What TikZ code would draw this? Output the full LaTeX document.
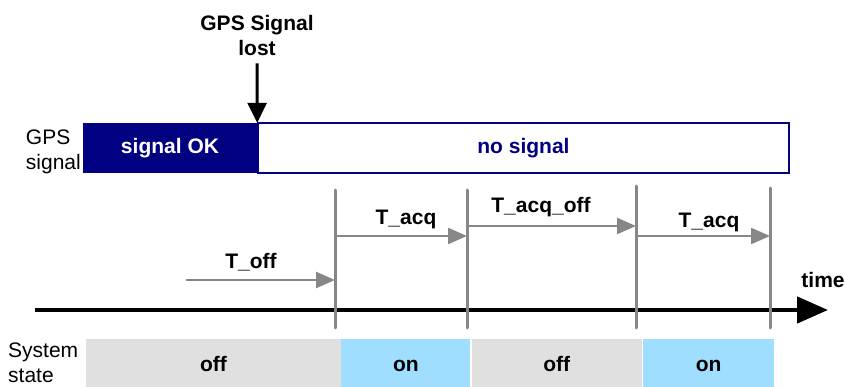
\documentclass[tikz,border=0pt]{standalone}
\usepackage{fontspec}
\setmainfont{Liberation Sans}
\usepackage{tikz}
\usetikzlibrary{arrows.meta,positioning}
\definecolor{gpsnavy}{RGB}{0,0,128}
\definecolor{markgray}{RGB}{135,135,135}
\definecolor{offgray}{RGB}{224,224,224}
\definecolor{onblue}{RGB}{160,222,255}

\begin{document}
\begin{tikzpicture}[x=1pt, y=-1pt, font=\fontsize{21}{25}\selectfont,
  txt/.style={inner sep=0pt, font=\fontsize{21}{25}\selectfont},
  bold/.style={inner sep=0pt, font=\fontsize{21}{25}\selectfont\bfseries},
  okbar/.style={bold, fill=gpsnavy, text=white, minimum height=50pt},
  nobar/.style={bold, draw=gpsnavy, line width=1.5pt, text=gpsnavy, minimum height=50pt},
  statebar/.style={bold, minimum height=48pt, text height=17pt, text depth=0pt},
  marker/.style={draw=markgray, line width=3pt, line cap=round},
  span/.style={draw=markgray, line width=2.5pt, -{Triangle[length=19pt,width=16pt]}},
  ]
  \useasboundingbox (0,0) rectangle (845,387);
  % GPS signal row
  \node[txt, align=left, anchor=east] (gpslbl) at (81,152) {GPS\\signal};
  \node[okbar, minimum width=174pt] (ok) at (170,148) {signal OK};
  \node[nobar, minimum width=531pt, right=0pt of ok] (nosig) {no signal};
  \node[bold, align=center] (lost) at (257,35) {GPS Signal\\lost};
  \draw[line width=3pt, -{Triangle[length=20pt,width=19pt]}, shorten <=8pt] (lost.south) -- (ok.north east);
  % time axis
  \coordinate (t0) at (35,310);
  \coordinate (t1) at (828,310);
  \draw[line width=4.5pt, -{Triangle[length=31pt,width=26pt]}] (t0) -- (t1);
  \node[bold] (time) at (823,280) {time};
  % markers
  \foreach \n/\x/\y in {1/335/190, 2/467/190, 3/636/186, 4/770/188} {
    \coordinate (m\n) at (\x,\y);
    \coordinate (b\n) at (\x,328);
    \draw[marker] (m\n) -- (b\n);
  }
  % spans
  \coordinate (offstart) at (186,280);
  \coordinate (acqlvl) at (0,236);
  \coordinate (acqofflvl) at (0,226);
  \draw[span] (offstart) -- (offstart -| m1);
  \draw[span] (m1 |- acqlvl) -- (m2 |- acqlvl);
  \draw[span] (m2 |- acqofflvl) -- (m3 |- acqofflvl);
  \draw[span] (m3 |- acqlvl) -- (m4 |- acqlvl);
  \node[bold] (toff) at (251,262) {T\_off};
  \node[bold] (tacqa) at (406,219) {T\_acq};
  \node[bold] (tacqoff) at (541,207) {T\_acq\_off};
  \node[bold] (tacqb) at (709,222) {T\_acq};
  % system state row
  \node[txt, align=left, anchor=west] (syslbl) at (8,363) {System\\state};
  \node[statebar, fill=offgray, minimum width=255pt] (s1) at (213.5,363) {off};
  \node[statebar, fill=onblue, minimum width=129pt, right=0pt of s1] (s2) {on};
  \node[statebar, fill=offgray, minimum width=170pt, right=1pt of s2] (s3) {off};
  \node[statebar, fill=onblue, minimum width=131pt, right=1pt of s3] (s4) {on};
\end{tikzpicture}
\end{document}
